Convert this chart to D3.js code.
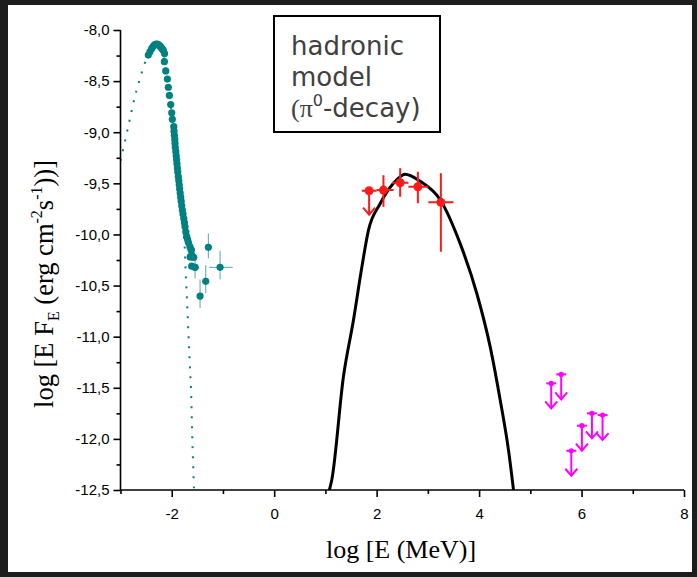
<!DOCTYPE html>
<html><head><meta charset="utf-8">
<script src="https://d3js.org/d3.v7.min.js"></script>
<style>
html,body{margin:0;padding:0;background:#1d1d1d;}
svg{display:block;}
</style></head>
<body>
<script>
// ---------- DATA ----------
// synchrotron data points (teal)
const syncX = [-2.457,-2.424,-2.39,-2.36,-2.34,-2.315,-2.293,-2.27,-2.248,-2.228,-2.209,-2.185,-2.164,-2.14,
  -2.144,-2.117,-2.085,-2.066,-2.046,-2.02,-2.0,-1.988,-1.96,-1.955,-1.948,-1.94,-1.936,-1.93,-1.92,-1.912,-1.905,
  -1.898,-1.89,-1.882,-1.871,-1.862,-1.853,-1.845,-1.835,-1.825,-1.815,-1.804,-1.793,-1.78,-1.765,-1.752,-1.74,
  -1.725,-1.707,-1.69,-1.675,-1.645,-1.62,-1.61,-1.64,-1.57,-1.61,-1.545];
const syncY = [-8.245,-8.212,-8.18,-8.16,-8.147,-8.14,-8.137,-8.14,-8.147,-8.158,-8.17,-8.185,-8.2,-8.23,
  -8.31,-8.40,-8.48,-8.56,-8.64,-8.73,-8.81,-8.874,-8.946,-8.99,-9.03,-9.07,-9.11,-9.15,-9.19,-9.23,-9.27,
  -9.31,-9.35,-9.39,-9.435,-9.475,-9.515,-9.555,-9.595,-9.635,-9.675,-9.72,-9.761,-9.80,-9.845,-9.885,-9.925,
  -9.975,-10.02,-10.05,-10.08,-10.12,-10.15,-10.20,-10.22,-10.224,-10.31,-10.322];
// teal points with error bars
const xrayX   = [-1.285, -1.056, -1.336, -1.447, -1.545, -1.62];
const xrayY   = [-10.126, -10.322, -10.459, -10.603, -10.322, -10.15];
const xrayYlo = [-10.234, -10.44, -10.576, -10.72, -10.43, -10.26];
const xrayYhi = [-9.99, -10.16, -10.30, -10.44, -10.25, -10.08];
const xrayXlo = [null, -1.27, null, null, null, null];
const xrayXhi = [null, -0.81, null, null, null, null];
// synchrotron model curve (teal dotted)
const syncModelX = [-3.0,-2.86,-2.74,-2.64,-2.52,-2.43,-2.35,-2.29,-2.23,-2.17,-2.12,-2.06,-2.0,-1.94,-1.87,-1.80,-1.75,-1.727,-1.70,-1.676,-1.65,-1.623,-1.598,-1.565];
const syncModelY = [-9.28,-8.97,-8.695,-8.506,-8.316,-8.20,-8.15,-8.14,-8.16,-8.22,-8.40,-8.60,-8.81,-9.10,-9.44,-9.77,-10.1,-10.38,-10.67,-10.95,-11.24,-11.53,-12.0,-12.5];
// hadronic (pi0 decay) model curve (black)
const piX = [1.078,1.125,1.352,1.547,1.711,1.840,2.068,2.328,2.557,2.850,3.240,3.631,3.957,4.217,4.412,4.574,4.672];
const piY = [-12.5,-12.40,-11.39,-10.84,-10.32,-9.96,-9.70,-9.50,-9.41,-9.48,-9.66,-10.09,-10.58,-11.10,-11.62,-12.11,-12.5];
// gamma-ray data (red)
const gamX   = [1.853, 2.133, 2.459, 2.805, 3.254];
const gamY   = [-9.572, -9.566, -9.494, -9.533, -9.686];
const gamXlo = [1.71, 2.00, 2.30, 2.62, 3.01];
const gamXhi = [2.00, 2.33, 2.62, 3.01, 3.50];
const gamYlo = [null, -9.73, -9.631, -9.696, -10.17];
const gamYhi = [null, -9.42, -9.353, -9.386, -9.402];
const gamUL  = [true, false, false, false, false];
// TeV upper limits (magenta)
const ulX = [5.408, 5.603, 6.007, 6.203, 6.41, 5.80];
const ulY = [-11.457, -11.369, -11.871, -11.75, -11.767, -12.116];
// ticks
const xTicks = [-2, 0, 2, 4, 6, 8];
const xMinor = [-3, -1, 1, 3, 5, 7];
const yTicks = [-8.0, -8.5, -9.0, -9.5, -10.0, -10.5, -11.0, -11.5, -12.0, -12.5];
const yMinor = [-8.25, -8.75, -9.25, -9.75, -10.25, -10.75, -11.25, -11.75, -12.25];
const legendLines = ["hadronic", "model", "(π", "-decay)"];

// ---------- CHART ----------
const W = 697, H = 577;
const svg = d3.select("body").append("svg").attr("width", W).attr("height", H);
svg.append("rect").attr("x",0).attr("y",0).attr("width",W).attr("height",H).attr("fill","#1d1d1d");
svg.append("rect").attr("x",8).attr("y",5).attr("width",684).attr("height",567).attr("fill","#fff");

const x = d3.scaleLinear().domain([-3, 8]).range([120.5, 684]);
const y = d3.scaleLinear().domain([-12.5, -8]).range([490, 30]);

svg.append("defs").append("clipPath").attr("id","clip")
  .append("rect").attr("x",x(-3)).attr("y",y(-8)-10).attr("width",x(8)-x(-3)).attr("height",y(-12.5)-y(-8)+10);

const plot = svg.append("g").attr("clip-path","url(#clip)");
const teal = "#008080";

// teal dotted model
plot.append("path")
  .datum(syncModelX.map((d,i)=>[d, syncModelY[i]]))
  .attr("d", d3.line().x(d=>x(d[0])).y(d=>y(d[1])).curve(d3.curveCatmullRom))
  .attr("fill","none").attr("stroke",teal).attr("stroke-width",2)
  .attr("stroke-dasharray","2,8");

// teal error bars
const xe = plot.append("g").attr("stroke","#5aa8a8").attr("stroke-width",1);
xrayX.forEach((d,i)=>{
  xe.append("line").attr("x1",x(d)).attr("x2",x(d)).attr("y1",y(xrayYlo[i])).attr("y2",y(xrayYhi[i]));
  if (xrayXlo[i] !== null)
    xe.append("line").attr("x1",x(xrayXlo[i])).attr("x2",x(xrayXhi[i])).attr("y1",y(xrayY[i])).attr("y2",y(xrayY[i]));
});
// teal dots
plot.append("g").selectAll("circle").data(syncX).join("circle")
  .attr("cx",d=>x(d)).attr("cy",(d,i)=>y(syncY[i])).attr("r",3.6).attr("fill",teal);
plot.append("g").selectAll("circle").data(xrayX).join("circle")
  .attr("cx",d=>x(d)).attr("cy",(d,i)=>y(xrayY[i])).attr("r",3.6).attr("fill",teal);

// black pi0 curve
plot.append("path")
  .datum(piX.map((d,i)=>[d, piY[i]]))
  .attr("d", d3.line().x(d=>x(d[0])).y(d=>y(d[1])).curve(d3.curveMonotoneX))
  .attr("fill","none").attr("stroke","#000").attr("stroke-width",3);

// red points
const red = "#ff1a1a";
const rg = plot.append("g").attr("stroke",red).attr("stroke-width",2).attr("fill","none");
gamX.forEach((d,i)=>{
  const cx = x(d), cy = y(gamY[i]);
  rg.append("line").attr("x1",x(gamXlo[i])).attr("x2",x(gamXhi[i])).attr("y1",cy).attr("y2",cy);
  if (gamYlo[i] !== null)
    rg.append("line").attr("x1",cx).attr("x2",cx).attr("y1",y(gamYlo[i])).attr("y2",y(gamYhi[i]));
  if (gamUL[i]) {
    rg.append("line").attr("x1",cx).attr("x2",cx).attr("y1",cy).attr("y2",cy+24);
    rg.append("path").attr("d",`M${cx-6},${cy+17}L${cx},${cy+24}L${cx+6},${cy+17}`);
  }
});
plot.append("g").selectAll("circle").data(gamX).join("circle")
  .attr("cx",d=>x(d)).attr("cy",(d,i)=>y(gamY[i])).attr("r",4.5).attr("fill",red);

// magenta upper limits
const mag = "#ff00ff";
const mg = plot.append("g").attr("stroke",mag).attr("stroke-width",2).attr("fill","none");
ulX.forEach((d,i)=>{
  const cx = x(d), cy = y(ulY[i]);
  mg.append("line").attr("x1",cx-5).attr("x2",cx+5).attr("y1",cy).attr("y2",cy);
  mg.append("line").attr("x1",cx).attr("x2",cx).attr("y1",cy).attr("y2",cy+25);
  mg.append("path").attr("d",`M${cx-6},${cy+18}L${cx},${cy+25}L${cx+6},${cy+18}`);
});
plot.append("g").selectAll("circle").data(ulX).join("circle")
  .attr("cx",d=>x(d)).attr("cy",(d,i)=>y(ulY[i])).attr("r",2.6).attr("fill",mag);

// ---------- AXES ----------
const fmt = d => d3.format(".1f")(d).replace(".", ",").replace("−","-");
const tickFont = "'Liberation Sans', Arial, sans-serif";

const xAxis = svg.append("g").attr("transform",`translate(0,${y(-12.5)})`)
  .call(d3.axisBottom(x).tickValues(xTicks).tickFormat(d=>String(d)).tickSize(7).tickPadding(11));
svg.append("g").attr("transform",`translate(0,${y(-12.5)})`)
  .call(d3.axisBottom(x).tickValues(xMinor).tickFormat("").tickSize(4))
  .call(g=>g.select(".domain").remove());
const yAxis = svg.append("g").attr("transform",`translate(${x(-3)},0)`)
  .call(d3.axisLeft(y).tickValues(yTicks).tickFormat(fmt).tickSize(7).tickPadding(4));
svg.append("g").attr("transform",`translate(${x(-3)},0)`)
  .call(d3.axisLeft(y).tickValues(yMinor).tickFormat("").tickSize(4))
  .call(g=>g.select(".domain").remove());

svg.selectAll(".domain").attr("stroke","#000").attr("stroke-width",1.6);
svg.selectAll(".tick line").attr("stroke","#000").attr("stroke-width",1.6);
svg.selectAll(".tick text").attr("font-family",tickFont).attr("font-size",15).attr("fill","#000");
xAxis.selectAll(".domain").attr("d",`M${x(-3)},0H${x(8)}`);
yAxis.selectAll(".domain").attr("d",`M0,${y(-12.5)}V${y(-8)}`);

// axis titles
const serif = "'Liberation Serif', 'Times New Roman', serif";
svg.append("text").attr("x",401).attr("y",558).attr("text-anchor","middle")
  .attr("font-family",serif).attr("font-size",26).attr("fill","#000").text("log [E (MeV)]");

const yt = svg.append("text").attr("transform","translate(53,284) rotate(-90)")
  .attr("text-anchor","middle").attr("font-family",serif).attr("font-size",26.5).attr("fill","#000");
yt.append("tspan").text("log [E F");
yt.append("tspan").attr("font-size",16).attr("dy",6).text("E");
yt.append("tspan").attr("dy",-6).text(" (erg cm");
yt.append("tspan").attr("font-size",16).attr("dy",-11).text("-2");
yt.append("tspan").attr("dy",11).text("s");
yt.append("tspan").attr("font-size",16).attr("dy",-11).text("-1");
yt.append("tspan").attr("dy",11).text("))]");

// legend box
svg.append("rect").attr("x",274).attr("y",16).attr("width",166).attr("height",116)
  .attr("fill","#fff").attr("stroke","#000").attr("stroke-width",2);
const lf = "'DejaVu Sans', 'Noto Sans', sans-serif";
const lg = svg.append("g").attr("font-family",lf).attr("font-size",26).attr("fill","#404040");
lg.append("text").attr("x",291).attr("y",55).text(legendLines[0]);
lg.append("text").attr("x",291).attr("y",86).text(legendLines[1]);
const l3 = lg.append("text").attr("x",291).attr("y",117);
l3.append("tspan").attr("font-family",serif).text(legendLines[2]);
l3.append("tspan").attr("font-size",16).attr("dy",-11).text("0");
l3.append("tspan").attr("dy",11).text(legendLines[3]);
</script>
</body></html>
